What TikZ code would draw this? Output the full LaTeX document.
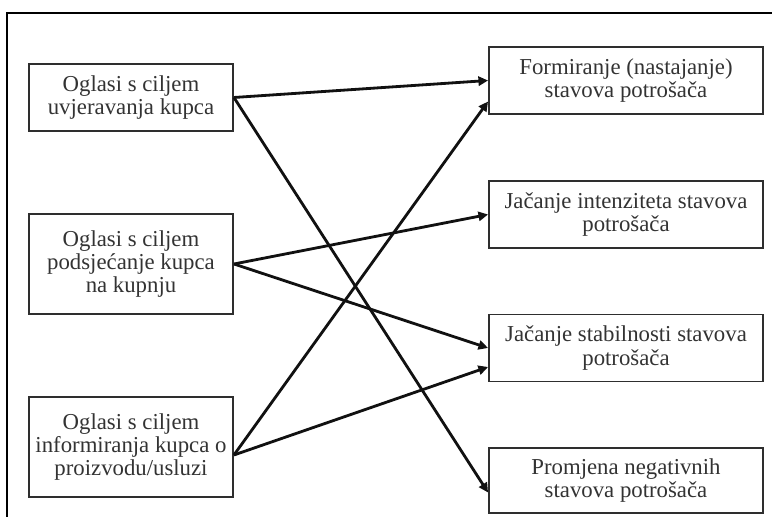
\documentclass[tikz,border=0pt]{standalone}
\usepackage{fontspec}
\setmainfont{Liberation Serif}
\usepackage{xcolor}
\definecolor{cLine}{HTML}{111111}
\definecolor{cBox}{HTML}{2E2E2E}
\definecolor{cText}{HTML}{333333}
\usetikzlibrary{arrows.meta}
\tikzset{
  node-box/.style={draw=cBox,line width=1.3pt,align=center,inner sep=0pt,
    text=cText,font=\fontsize{16.2}{16.5}\selectfont},
  node-ad/.style={node-box,minimum width=5.1cm},
  node-effect/.style={node-box,minimum width=6.85cm,minimum height=1.675cm},
  arrow/.style={-{Triangle[length=2.4mm,width=2.3mm]},line width=2pt,draw=cLine},
  frame-line/.style={line width=2pt,draw=black},
}

\begin{document}
\begin{tikzpicture}[x=0.025cm,y=-0.025cm]
  \useasboundingbox (0,0) rectangle (772,517);
  \draw[frame-line] (7,517) -- (7,13) -- (772,13);
  % vrste oglasa (lijevo)
  \node[node-ad,minimum height=1.675cm] (l1) at (131,97.5) {Oglasi s ciljem\\uvjeravanja kupca};
  \node[node-ad,minimum height=2.5cm] (l2) at (131,264) {Oglasi s ciljem\\podsjećanje kupca\\na kupnju};
  \node[node-ad,minimum height=2.5cm] (l3) at (131,447) {Oglasi s ciljem\\informiranja kupca o\\proizvodu/usluzi};
  % učinci na stavove (desno)
  \node[node-effect] (r1) at (626,80.5) {Formiranje (nastajanje)\\stavova potrošača};
  \node[node-effect] (r2) at (626,214.5) {Jačanje intenziteta stavova\\potrošača};
  \node[node-effect] (r3) at (626,348) {Jačanje stabilnosti stavova\\potrošača};
  \node[node-effect,minimum height=1.625cm] (r4) at (626,480.5) {Promjena negativnih\\stavova potrošača};
  \coordinate (l3-out) at ([yshift=-0.2cm]l3.east);
  \draw[arrow] (l1.east) -- (r1.west);
  \draw[arrow] (l1.east) -- ([yshift=-0.3cm]r4.west);
  \draw[arrow] (l2.east) -- (r2.west);
  \draw[arrow] (l2.east) -- (r3.west);
  \draw[arrow] (l3-out) -- ([yshift=-0.525cm]r1.west);
  \draw[arrow] (l3-out) -- ([yshift=-0.475cm]r3.west);
\end{tikzpicture}
\end{document}
